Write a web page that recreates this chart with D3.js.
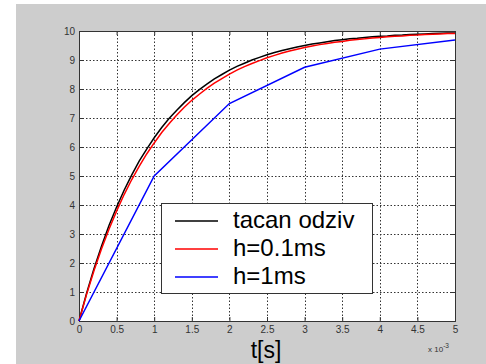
<!DOCTYPE html>
<html><head><meta charset="utf-8">
<script src="https://cdn.jsdelivr.net/npm/d3@7"></script>
<style>html,body{margin:0;padding:0;background:#fff;}svg{display:block;}</style>
</head><body>
<script>
// time in ms (axis shown in seconds with x 10^-3 multiplier)
const tFine = [0,0.1,0.2,0.3,0.4,0.5,0.6,0.7,0.8,0.9,1.0,1.1,1.2,1.3,1.4,1.5,1.6,1.7,1.8,1.9,2.0,2.1,2.2,2.3,2.4,2.5,2.6,2.7,2.8,2.9,3.0,3.1,3.2,3.3,3.4,3.5,3.6,3.7,3.8,3.9,4.0,4.1,4.2,4.3,4.4,4.5,4.6,4.7,4.8,4.9,5.0];
const exactValues = [0,0.95,1.81,2.59,3.30,3.93,4.51,5.03,5.51,5.93,6.32,6.67,6.99,7.27,7.53,7.77,7.98,8.17,8.35,8.50,8.65,8.78,8.89,9.00,9.09,9.18,9.26,9.33,9.39,9.45,9.50,9.55,9.59,9.63,9.67,9.70,9.73,9.75,9.78,9.80,9.82,9.83,9.85,9.86,9.88,9.89,9.90,9.91,9.92,9.93,9.93];
const h01Values = [0,0.91,1.74,2.49,3.17,3.79,4.36,4.87,5.33,5.76,6.14,6.50,6.81,7.10,7.37,7.61,7.82,8.02,8.20,8.36,8.51,8.65,8.77,8.88,8.98,9.08,9.16,9.24,9.31,9.37,9.43,9.48,9.53,9.57,9.61,9.64,9.68,9.71,9.73,9.76,9.78,9.80,9.82,9.83,9.85,9.86,9.88,9.89,9.90,9.91,9.91];
const tCoarse = [0,1,2,3,4,5];
const h1Values = [0,5,7.5,8.75,9.375,9.6875];
const xTicks = [0,0.5,1,1.5,2,2.5,3,3.5,4,4.5,5];
const yTicks = [0,1,2,3,4,5,6,7,8,9,10];
const legendLabels = ["tacan odziv","h=0.1ms","h=1ms"];
const seriesColors = ["#000000","#ff0000","#0000ff"];

const W=486,H=364;
const svg=d3.select("body").append("svg").attr("width",W).attr("height",H);
svg.append("rect").attr("x",16).attr("y",4).attr("width",W-16).attr("height",H-4).attr("fill","#cdcdcd");

const L=79,R=455,T=31,B=321;
const x=d3.scaleLinear().domain([0,5]).range([L,R]);
const y=d3.scaleLinear().domain([0,10]).range([B,T]);

svg.append("rect").attr("x",L).attr("y",T).attr("width",R-L).attr("height",B-T).attr("fill","#fff");

// grid
const g=svg.append("g");
g.selectAll(".gx").data(xTicks.slice(1,-1)).enter().append("line")
 .attr("x1",d=>Math.round(x(d))+0.5).attr("x2",d=>Math.round(x(d))+0.5).attr("y1",T).attr("y2",B)
 .attr("stroke","#333").attr("stroke-width",1).attr("stroke-dasharray","1.5,2");
g.selectAll(".gy").data(yTicks.slice(1,-1)).enter().append("line")
 .attr("y1",d=>Math.round(y(d))+0.5).attr("y2",d=>Math.round(y(d))+0.5).attr("x1",L).attr("x2",R)
 .attr("stroke","#333").attr("stroke-width",1).attr("stroke-dasharray","1.5,2");

// axes
const xAx=d3.axisBottom(x).tickValues(xTicks).tickSize(-4).tickPadding(5).tickFormat(d3.format("~g"));
const yAx=d3.axisLeft(y).tickValues(yTicks).tickSize(-4).tickPadding(4).tickFormat(d3.format("~g"));
const xa=svg.append("g").attr("transform",`translate(0,${B})`).call(xAx);
const ya=svg.append("g").attr("transform",`translate(${L},0)`).call(yAx);
const xt=svg.append("g").attr("transform",`translate(0,${T})`).call(d3.axisTop(x).tickValues(xTicks).tickSize(-4).tickFormat(""));
const yr=svg.append("g").attr("transform",`translate(${R},0)`).call(d3.axisRight(y).tickValues(yTicks).tickSize(-4).tickFormat(""));
[xa,ya,xt,yr].forEach(a=>{
  a.selectAll("path,line").attr("stroke","#333");
  a.selectAll("text").attr("font-family","Liberation Sans, Arial, sans-serif").attr("font-size",10).attr("fill","#333");
});

// series
const line=d3.line().x(d=>x(d[0])).y(d=>y(d[1]));
const series=[
  {t:tFine,v:exactValues,c:seriesColors[0]},
  {t:tFine,v:h01Values,c:seriesColors[1]},
  {t:tCoarse,v:h1Values,c:seriesColors[2]}
];
series.forEach(s=>{
  svg.append("path").datum(s.t.map((t,i)=>[t,s.v[i]]))
   .attr("d",line).attr("fill","none").attr("stroke",s.c).attr("stroke-width",1.5);
});

// legend
const lg=svg.append("g");
lg.append("rect").attr("x",161.5).attr("y",203.5).attr("width",211).attr("height",90)
  .attr("fill","#fff").attr("stroke","#333").attr("stroke-width",1);
legendLabels.forEach((lab,i)=>{
  const yy=221+i*28;
  lg.append("line").attr("x1",175).attr("x2",218).attr("y1",yy).attr("y2",yy).attr("stroke",seriesColors[i]).attr("stroke-width",1.5);
  lg.append("text").attr("x",233).attr("y",yy+7).text(lab)
    .attr("font-family","Liberation Sans, Arial, sans-serif").attr("font-size",24).attr("fill","#000");
});

// labels
svg.append("text").attr("x",266).attr("y",358).attr("text-anchor","middle").text("t[s]")
  .attr("font-family","Liberation Sans, Arial, sans-serif").attr("font-size",23).attr("fill","#000");
const mul=svg.append("text").attr("x",428).attr("y",352)
  .attr("font-family","Liberation Sans, Arial, sans-serif").attr("font-size",8).attr("fill","#333");
mul.append("tspan").text("x 10");
mul.append("tspan").attr("dy",-4).attr("font-size",6.5).text("-3");
</script>
</body></html>
